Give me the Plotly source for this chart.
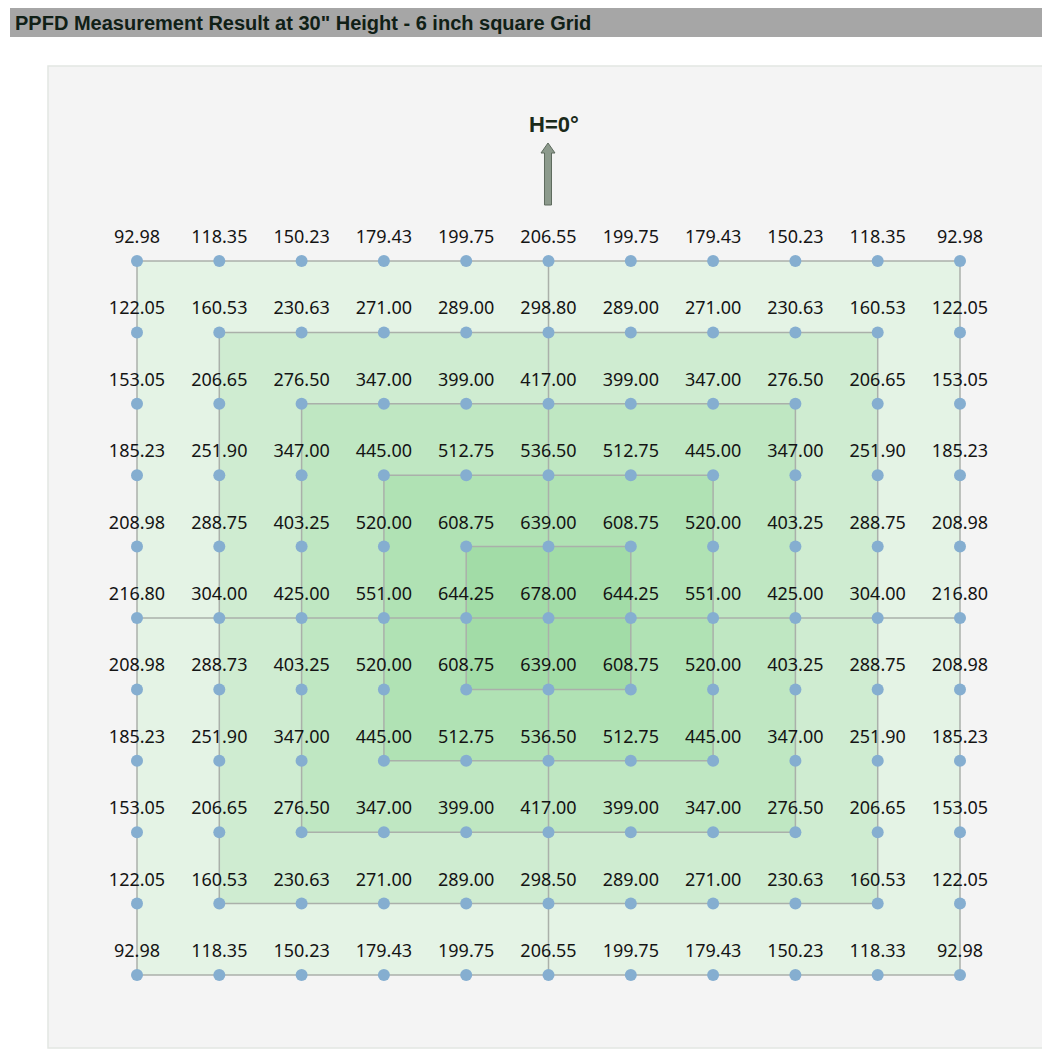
import plotly.graph_objects as go

rows = list(range(11))
cols = list(range(11))
values = [
    ["92.98", "118.35", "150.23", "179.43", "199.75", "206.55", "199.75", "179.43", "150.23", "118.35", "92.98"],
    ["122.05", "160.53", "230.63", "271.00", "289.00", "298.80", "289.00", "271.00", "230.63", "160.53", "122.05"],
    ["153.05", "206.65", "276.50", "347.00", "399.00", "417.00", "399.00", "347.00", "276.50", "206.65", "153.05"],
    ["185.23", "251.90", "347.00", "445.00", "512.75", "536.50", "512.75", "445.00", "347.00", "251.90", "185.23"],
    ["208.98", "288.75", "403.25", "520.00", "608.75", "639.00", "608.75", "520.00", "403.25", "288.75", "208.98"],
    ["216.80", "304.00", "425.00", "551.00", "644.25", "678.00", "644.25", "551.00", "425.00", "304.00", "216.80"],
    ["208.98", "288.73", "403.25", "520.00", "608.75", "639.00", "608.75", "520.00", "403.25", "288.75", "208.98"],
    ["185.23", "251.90", "347.00", "445.00", "512.75", "536.50", "512.75", "445.00", "347.00", "251.90", "185.23"],
    ["153.05", "206.65", "276.50", "347.00", "399.00", "417.00", "399.00", "347.00", "276.50", "206.65", "153.05"],
    ["122.05", "160.53", "230.63", "271.00", "289.00", "298.50", "289.00", "271.00", "230.63", "160.53", "122.05"],
    ["92.98", "118.35", "150.23", "179.43", "199.75", "206.55", "199.75", "179.43", "150.23", "118.33", "92.98"],
]
ring_colors = ["#e4f3e5", "#cfecd1", "#bfe7c2", "#b0e2b4", "#a2dca7"]
title_text = "PPFD Measurement Result at 30\" Height - 6 inch square Grid"
orientation_label = "H=0°"

W = H = 1050
OFF = 8.0  # page body margin
x0_px, dx_px = 137.0 - OFF, 82.3
y0_px, dy_px = 261.0 - OFF, 71.4
xa = -x0_px / dx_px
xb = xa + W / dx_px
ya = -y0_px / dy_px
yb = ya + H / dy_px

xs, ys, ts = [], [], []
for r in rows:
    for c in cols:
        xs.append(c)
        ys.append(r)
        ts.append(values[r][c])


def px_x(p):
    return (p - OFF) / W


def px_y(p):
    return 1 - (p - OFF) / H


fig = go.Figure()

shapes = []
shapes.append(dict(type="rect", xref="paper", yref="paper",
                   x0=px_x(48), x1=px_x(1048), y0=px_y(1048), y1=px_y(66),
                   fillcolor="#f4f4f4", line=dict(color="#e2e6e2", width=1.5), layer="below"))
shapes.append(dict(type="rect", xref="paper", yref="paper",
                   x0=px_x(10), x1=px_x(1048), y0=px_y(37), y1=px_y(8),
                   fillcolor="#a6a6a6", line=dict(width=0), layer="below"))
n = len(cols) - 1
for k, col in enumerate(ring_colors):
    shapes.append(dict(type="rect", xref="x", yref="y",
                       x0=cols[k], x1=cols[n - k], y0=rows[k], y1=rows[n - k],
                       fillcolor=col, line=dict(color="#aab0aa", width=1.5), layer="below"))
mid = n // 2
shapes.append(dict(type="line", xref="x", yref="y", x0=cols[mid], x1=cols[mid], y0=rows[0], y1=rows[n],
                   line=dict(color="#aab0aa", width=1.5), layer="below"))
shapes.append(dict(type="line", xref="x", yref="y", x0=cols[0], x1=cols[n], y0=rows[mid], y1=rows[mid],
                   line=dict(color="#aab0aa", width=1.5), layer="below"))


def P(px, py):
    return f"{px_x(px):.5f},{px_y(py):.5f}"


ax = 548
path = ("M " + P(ax - 3.5, 205) + " L " + P(ax - 3.5, 153) + " L " + P(ax - 7, 153) +
        " L " + P(ax, 143) + " L " + P(ax + 7, 153) + " L " + P(ax + 3.5, 153) +
        " L " + P(ax + 3.5, 205) + " Z")
shapes.append(dict(type="path", xref="paper", yref="paper", path=path,
                   fillcolor="#8c9a8c", line=dict(color="#5e6b5e", width=1)))

# labels (invisible larger markers to push text further above the dots)
fig.add_trace(go.Scatter(
    x=xs, y=ys, mode="markers+text", text=ts,
    textposition="top center",
    textfont=dict(family="Noto Sans, Open Sans, sans-serif", size=18, color="#141414"),
    marker=dict(size=20, color="rgba(0,0,0,0)"),
    hoverinfo="skip", showlegend=False, cliponaxis=False,
))
fig.add_trace(go.Scatter(
    x=xs, y=ys, mode="markers",
    marker=dict(size=12, color="#85aed0"),
    hoverinfo="skip", showlegend=False, cliponaxis=False,
))

fig.add_annotation(xref="paper", yref="paper", x=px_x(13), y=px_y(22.5),
                   xanchor="left", yanchor="middle", showarrow=False,
                   text="<b>" + title_text + "</b>",
                   font=dict(family="Liberation Sans, Arial, sans-serif", size=20, color="#102016"))
fig.add_annotation(xref="paper", yref="paper", x=px_x(554), y=px_y(124),
                   xanchor="center", yanchor="middle", showarrow=False,
                   text="<b>" + orientation_label + "</b>",
                   font=dict(family="Liberation Sans, Arial, sans-serif", size=22, color="#1a2a1a"))

fig.update_layout(
    width=W, height=H, margin=dict(l=0, r=0, t=0, b=0),
    paper_bgcolor="white", plot_bgcolor="rgba(0,0,0,0)",
    shapes=shapes,
    xaxis=dict(range=[xa, xb], visible=False, fixedrange=True),
    yaxis=dict(range=[yb, ya], visible=False, fixedrange=True),
)

fig.write_html("out.html")
